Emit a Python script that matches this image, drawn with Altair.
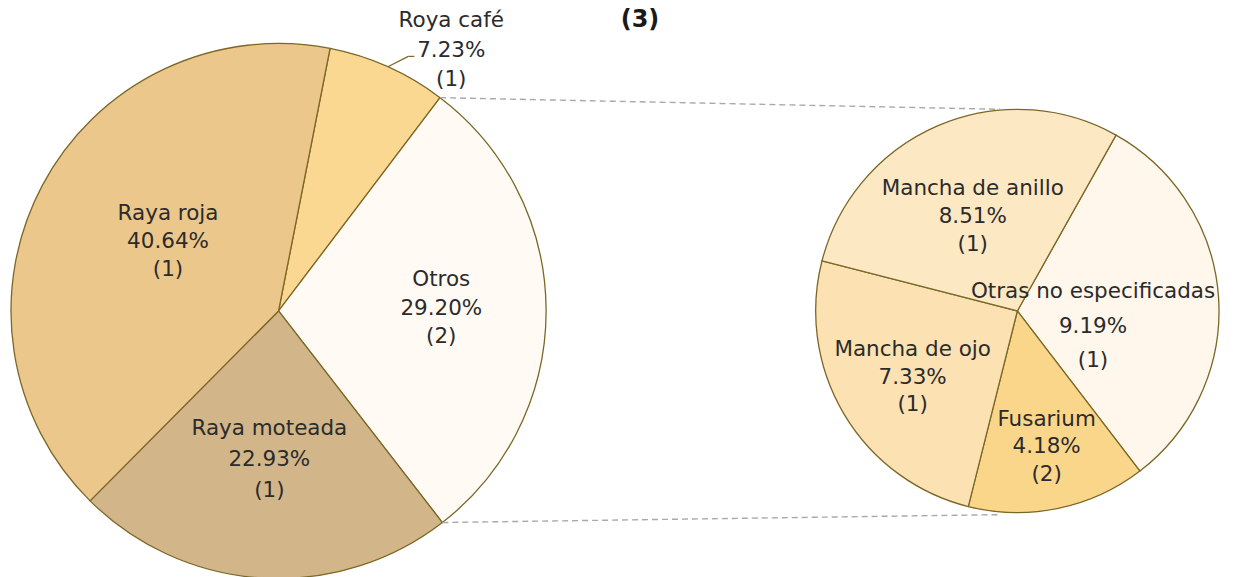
import math
import altair as alt
import pandas as pd

# ---- data ----
LEFT_NAMES = ["Roya café", "Otros", "Raya moteada", "Raya roja"]
LEFT_PCT = [7.23, 29.20, 22.93, 40.64]
LEFT_N = [1, 2, 1, 1]

RIGHT_NAMES = ["Otras no especificadas", "Fusarium", "Mancha de ojo", "Mancha de anillo"]
RIGHT_PCT = [9.19, 4.18, 7.33, 8.51]
RIGHT_N = [1, 2, 1, 1]

TITLE = "(3)"

# ---- styles / layout ----
COLORS = {
    "Roya café": "#FBD891",
    "Otros": "#FFFBF4",
    "Raya moteada": "#D2B68A",
    "Raya roja": "#EBC78C",
    "Otras no especificadas": "#FFF7EC",
    "Fusarium": "#FAD68A",
    "Mancha de ojo": "#FCE2B2",
    "Mancha de anillo": "#FDE8C4",
}
# label placement: (radius along mid-angle, dx, dy, lineHeight)
LABEL_POS = {
    "Otros": (163, 0, -30, 28.5),
    "Raya moteada": (150, 0, -31, 31),
    "Raya roja": (131, 5, -36, 28),
    "Otras no especificadas": (76, 0, -14, 35),
    "Fusarium": (140, 1, -28, 27.5),
    "Mancha de ojo": (122, 0, -23, 27.5),
    "Mancha de anillo": (106, -3, -25, 28),
}
STROKE = "#7B6726"
FONT = "DejaVu Sans"
TXT = "#2b2b2b"
FS = 21.5

M = 8  # page margin
L_CX, L_CY, L_R = 277 - M, 308 - M, 268
R_CX, R_CY, R_R = 1017 - M, 308 - M, 202
L_START = math.radians(11.1)
R_START = math.radians(29.3)


def make_df(names, pct, n):
    return pd.DataFrame({
        "name": names,
        "pct": pct,
        "idx": list(range(len(names))),
        "label": [f"{a}\n{b:.2f}%\n({c})" for a, b, c in zip(names, pct, n)],
    })


left_df = make_df(LEFT_NAMES, LEFT_PCT, LEFT_N)
right_df = make_df(RIGHT_NAMES, RIGHT_PCT, RIGHT_N)

all_names = LEFT_NAMES + RIGHT_NAMES
color_scale = alt.Scale(domain=all_names, range=[COLORS[k] for k in all_names])


def pie(df, cx, cy, r, start, inner_labels):
    total = float(df["pct"].sum())
    tscale = alt.Scale(domain=[0, total], range=[start, start + 2 * math.pi], zero=True, nice=False)
    base = alt.Chart(df).transform_window(
        cum="sum(pct)", sort=[alt.SortField("idx")], frame=[None, 0]
    ).transform_calculate(
        t0="datum.cum - datum.pct", tm="datum.cum - datum.pct / 2"
    )
    layers = [base.mark_arc(radius=r, stroke=STROKE, strokeWidth=1.3).encode(
        theta=alt.Theta("t0:Q", scale=tscale),
        theta2=alt.Theta2("cum:Q"),
        color=alt.Color("name:N", scale=color_scale, legend=None),
        x=alt.value(cx), y=alt.value(cy),
    )]
    for nm in inner_labels:
        lr, dx, dy, lh = LABEL_POS[nm]
        layers.append(
            base.transform_filter(alt.datum.name == nm).mark_text(
                font=FONT, fontSize=FS, color=TXT, lineBreak="\n", lineHeight=lh,
                align="center", baseline="middle", dx=dx, dy=dy, radius=lr,
            ).encode(
                theta=alt.Theta("tm:Q", scale=tscale),
                text=alt.Text("label:N"),
                x=alt.value(cx), y=alt.value(cy),
            )
        )
    return alt.layer(*layers)


left = pie(left_df, L_CX, L_CY, L_R, L_START, ["Otros", "Raya moteada", "Raya roja"])
right = pie(right_df, R_CX, R_CY, R_R, R_START, RIGHT_NAMES)

# slice boundary angles on the left pie (derived from data)
cum = 0.0
angles = {}
tot = sum(LEFT_PCT)
for nm, p in zip(LEFT_NAMES, LEFT_PCT):
    a0 = L_START + 2 * math.pi * cum / tot
    cum += p
    a1 = L_START + 2 * math.pi * cum / tot
    angles[nm] = (a0, a1)
oa0, oa1 = angles["Otros"]
p_top = (L_CX + L_R * math.sin(oa0), L_CY - L_R * math.cos(oa0))
p_bot = (L_CX + L_R * math.sin(oa1), L_CY - L_R * math.cos(oa1))

anchor = pd.DataFrame({"k": [0]})
dash_top = alt.Chart(anchor).mark_rule(color="#A9A9A9", strokeWidth=1.4, strokeDash=[6, 4]).encode(
    x=alt.value(p_top[0]), y=alt.value(p_top[1]),
    x2=alt.value(1000 - M), y2=alt.value(106 - M))
dash_bot = alt.Chart(anchor).mark_rule(color="#A9A9A9", strokeWidth=1.4, strokeDash=[6, 4]).encode(
    x=alt.value(p_bot[0]), y=alt.value(p_bot[1]),
    x2=alt.value(1000 - M), y2=alt.value(512 - M))

# Roya café outside label with leader
ca0, ca1 = angles["Roya café"]
cm = (ca0 + ca1) / 2
lead0 = (L_CX + L_R * math.sin(cm), L_CY - L_R * math.cos(cm))
leader1 = alt.Chart(anchor).mark_rule(color=STROKE, strokeWidth=1.2).encode(
    x=alt.value(lead0[0]), y=alt.value(lead0[1]),
    x2=alt.value(407 - M), y2=alt.value(53 - M))
leader2 = alt.Chart(anchor).mark_rule(color=STROKE, strokeWidth=1.2).encode(
    x=alt.value(407 - M), y=alt.value(53 - M),
    x2=alt.value(413 - M), y2=alt.value(53 - M))
rc = left_df[left_df["name"] == "Roya café"].iloc[0]
roya_txt = alt.Chart(anchor).mark_text(font=FONT, fontSize=FS, color=TXT, lineBreak="\n",
                                       lineHeight=29.5, align="center", baseline="middle").encode(
    x=alt.value(450 - M), y=alt.value(18 - M), text=alt.value(rc["label"]))

title = alt.Chart(anchor).mark_text(font=FONT, fontSize=24, fontWeight="bold", color="#1a1a1a",
                                    align="center", baseline="middle").encode(
    x=alt.value(639 - M), y=alt.value(17 - M), text=alt.value(TITLE))

chart = alt.layer(left, right, dash_top, dash_bot, leader1, leader2, roya_txt, title).resolve_scale(
    theta="independent"
).properties(
    width=1233 - 2 * M, height=577 - 2 * M, padding=0, background="white"
).configure_view(stroke=None)

chart.save("out.html", embed_options={"renderer": "svg", "actions": False})
